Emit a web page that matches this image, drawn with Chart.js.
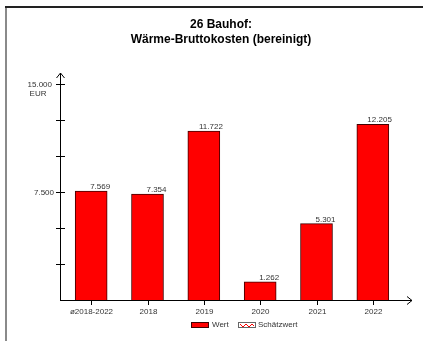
<!DOCTYPE html>
<html>
<head>
<meta charset="utf-8">
<script src="https://cdn.jsdelivr.net/npm/chart.js@4"></script>
<style>
  html, body { margin: 0; padding: 0; background: #fff; }
  canvas { display: block; }
</style>
</head>
<body>
<canvas id="chart" width="423" height="341"></canvas>
<script>
// Chart data
const titleLines = ['26 Bauhof:', 'Wärme-Bruttokosten (bereinigt)'];
const categories = ['ø2018-2022', '2018', '2019', '2020', '2021', '2022'];
const wertValues = [7569, 7354, 11722, 1262, 5301, 12205];
const schaetzValues = [null, null, null, null, null, null];
const yTicks = [2500, 5000, 7500, 10000, 12500, 15000];
const yTickLabels = ['', '', '7.500', '', '', '15.000'];
const yUnit = 'EUR';

const FONT = '"Liberation Sans", Arial, sans-serif';

function formatDe(v) {
    return String(Math.round(v)).replace(/\B(?=(\d{3})+(?!\d))/g, '.');
}

// Draws frame, title, axes with arrows, labels and legend
const decorations = {
    id: 'decorations',
    afterDatasetsDraw(chart) {
        const ctx = chart.ctx;
        const area = chart.chartArea;
        const xScale = chart.scales.x;
        const yScale = chart.scales.y;
        const axisX = area.left - 3;
        const axisY = yScale.getPixelForValue(0);

        ctx.save();

        // frame
        ctx.fillStyle = '#8a8a8a';
        ctx.fillRect(5, 7, 2, 334);
        ctx.fillStyle = '#222';
        ctx.fillRect(5, 6, 418, 2);

        // title
        ctx.fillStyle = '#000';
        ctx.font = 'bold 12px ' + FONT;
        ctx.textAlign = 'center';
        ctx.textBaseline = 'middle';
        ctx.fillText(titleLines[0], 221, 25);
        ctx.fillText(titleLines[1], 221, 40);

        // y axis with arrow
        ctx.strokeStyle = '#000';
        ctx.lineWidth = 1;
        ctx.beginPath();
        ctx.moveTo(axisX + 0.5, axisY + 0.5);
        ctx.lineTo(axisX + 0.5, 73);
        ctx.moveTo(axisX - 3.5, 78);
        ctx.lineTo(axisX + 0.5, 73);
        ctx.lineTo(axisX + 4.5, 78);
        ctx.stroke();

        // x axis with arrow
        ctx.beginPath();
        ctx.moveTo(axisX, axisY + 0.5);
        ctx.lineTo(412, axisY + 0.5);
        ctx.moveTo(407, axisY - 3.5);
        ctx.lineTo(412, axisY + 0.5);
        ctx.lineTo(407, axisY + 4.5);
        ctx.stroke();

        // y ticks and labels
        ctx.font = '8px ' + FONT;
        ctx.fillStyle = '#333';
        ctx.textBaseline = 'middle';
        yTicks.forEach((v, i) => {
            const y = Math.round(yScale.getPixelForValue(v)) + 0.5;
            ctx.beginPath();
            ctx.moveTo(axisX - 4, y);
            ctx.lineTo(axisX + 5, y);
            ctx.stroke();
            if (yTickLabels[i]) {
                ctx.textAlign = 'right';
                ctx.fillText(yTickLabels[i], i === yTicks.length - 1 ? axisX - 8 : axisX - 6, y);
            }
        });
        ctx.textAlign = 'center';
        const topY = yScale.getPixelForValue(yTicks[yTicks.length - 1]);
        ctx.fillText(yUnit, 38, topY + 10);

        // x ticks and labels
        categories.forEach((c, i) => {
            const x = Math.round(xScale.getPixelForValue(i)) + 0.5;
            ctx.beginPath();
            ctx.moveTo(x, axisY + 1);
            ctx.lineTo(x, axisY + 5);
            ctx.stroke();
            ctx.textAlign = 'center';
            ctx.fillText(c, x, axisY + 12);
        });

        // value labels
        const meta = chart.getDatasetMeta(0);
        ctx.textAlign = 'right';
        ctx.textBaseline = 'alphabetic';
        meta.data.forEach((bar, i) => {
            ctx.fillText(formatDe(wertValues[i]), bar.x + bar.width / 2 + 3, bar.y - 2);
        });

        // legend
        const ly = 322;
        ctx.fillStyle = chart.data.datasets[0].backgroundColor;
        ctx.fillRect(191, ly, 18, 6);
        ctx.strokeStyle = '#400000';
        ctx.strokeRect(191.5, ly + 0.5, 17, 5);
        ctx.fillStyle = '#333';
        ctx.textAlign = 'left';
        ctx.textBaseline = 'middle';
        ctx.fillText(chart.data.datasets[0].label, 212, ly + 3);

        ctx.strokeStyle = '#666';
        ctx.strokeRect(238.5, ly + 0.5, 17, 5);
        ctx.strokeStyle = '#ff0000';
        ctx.beginPath();
        ctx.moveTo(240, ly + 2);
        ctx.lineTo(243, ly + 5);
        ctx.lineTo(246, ly + 2);
        ctx.lineTo(249, ly + 5);
        ctx.lineTo(252, ly + 2);
        ctx.lineTo(254, ly + 4);
        ctx.stroke();
        ctx.fillText(chart.data.datasets[1].label, 258, ly + 3);

        ctx.restore();
    }
};

new Chart(document.getElementById('chart'), {
    type: 'bar',
    data: {
        labels: categories,
        datasets: [
            {
                label: 'Wert',
                data: wertValues,
                backgroundColor: '#ff0000',
                borderColor: '#400000',
                borderWidth: 1,
                barThickness: 32,
                grouped: false
            },
            {
                label: 'Schätzwert',
                data: schaetzValues,
                backgroundColor: '#ffffff',
                borderColor: '#ff0000',
                borderWidth: 1,
                barThickness: 32,
                grouped: false
            }
        ]
    },
    options: {
        responsive: false,
        animation: false,
        layout: {
            padding: { left: 63, right: 22, top: 84, bottom: 41 }
        },
        scales: {
            x: { display: false, offset: true },
            y: { display: false, min: 0, max: 15000 }
        },
        plugins: {
            legend: { display: false },
            title: { display: false },
            tooltip: { enabled: false }
        }
    },
    plugins: [decorations]
});
</script>
</body>
</html>
